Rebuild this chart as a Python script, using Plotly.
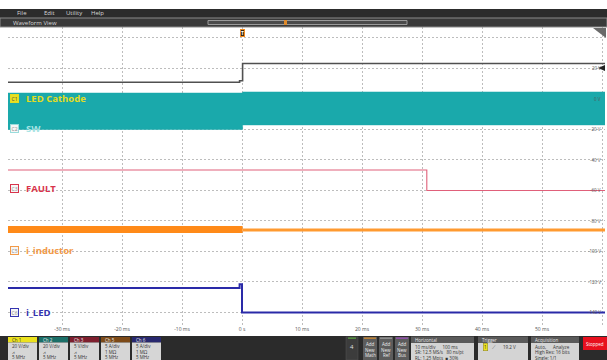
import plotly.graph_objects as go

W, H = 607, 360

t_gray = [-39, -0.4, -0.4, 0.1, 0.1, 60.5]
v_gray = [11.0, 11.0, 12.0, 12.0, 23.3, 23.3]

t_sw = [-39, 0.1, 0.1, 60.5]
v_sw_top = [3.9, 3.9, 4.6, 4.6]
v_sw_bot = [-20.0, -20.0, -17.0, -17.0]

t_fault = [-39, 30.8, 30.8, 60.5]
v_fault = [-46.6, -46.6, -60.0, -60.0]

t_ind_pre = [-39, 0.1]
v_ind_pre = [-85.6, -85.6]
t_ind_post = [0.1, 60.5]
v_ind_post = [-85.9, -85.9]

t_led = [-39, -0.4, -0.4, 0.0, 0.0, 60.5]
v_led = [-124.0, -124.0, -121.5, -121.5, -140.0, -140.0]

x_ticks = [-30, -20, -10, 0, 10, 20, 30, 40, 50, 60]
x_labels = ["-30 ms", "-20 ms", "-10 ms", "0 s", "10 ms", "20 ms", "30 ms", "40 ms", "50 ms", ""]
y_ticks = [40, 20, 0, -20, -40, -60, -80, -100, -120, -140]
y_labels = ["", "20 V", "0 V", "-20 V", "-40 V", "-60 V", "-80 V", "-100 V", "-120 V", "-140 V"]

channels = ["Ch 1", "Ch 2", "Ch 3", "Ch 5", "Ch 6"]
ch_scale = ["20 V/div", "20 V/div", "5 V/div", "5 A/div", "5 A/div"]
ch_line2 = ["⩘", "⩘", "⩘", "1 MΩ", "1 MΩ"]
ch_head = ["#ece21e", "#1b6f68", "#7e1f2e", "#7d4a18", "#28286e"]
ch_headtxt = ["#333333", "#e8e8e8", "#e8e8e8", "#e8e8e8", "#e8e8e8"]

trace_names = ["LED Cathode", "SW", "FAULT", "i_inductor", "i_LED"]
trace_badges = ["C1", "C2", "C3", "C5", "C6"]
trace_colors = ["#e3dc22", "#a8e4e4", "#d8344c", "#f29a48", "#3434b0"]
label_levels = [0.5, -19.5, -59.0, -99.5, -140.0]

FONT = "Open Sans"


def X(px):
    return px / W


def Y(py):
    return 1 - py / H


def note(x, y, text, size=4.5, color="#333333", xanchor="left", xref="paper", yref="paper", **kw):
    return dict(x=x, y=y, xref=xref, yref=yref, text=text, showarrow=False,
                xanchor=xanchor, yanchor="middle",
                font=dict(size=size, color=color, family=FONT), **kw)


fig = go.Figure()

fig.add_trace(go.Scatter(x=t_gray, y=v_gray, mode="lines",
                         line=dict(color="#505050", width=1.6), hoverinfo="skip"))
fig.add_trace(go.Scatter(x=t_sw, y=v_sw_bot, mode="lines",
                         line=dict(color="#1aa9ab", width=0.5), hoverinfo="skip"))
fig.add_trace(go.Scatter(x=t_sw, y=v_sw_top, mode="lines", fill="tonexty",
                         fillcolor="#1aa9ab",
                         line=dict(color="#1aa9ab", width=0.5), hoverinfo="skip"))
fig.add_trace(go.Scatter(x=t_fault, y=v_fault, mode="lines",
                         line=dict(color="#e0607a", width=1.1), hoverinfo="skip"))
fig.add_trace(go.Scatter(x=t_ind_pre, y=v_ind_pre, mode="lines",
                         line=dict(color="#ff8a18", width=7), hoverinfo="skip"))
fig.add_trace(go.Scatter(x=t_ind_post, y=v_ind_post, mode="lines",
                         line=dict(color="#ff9a30", width=3), hoverinfo="skip"))
fig.add_trace(go.Scatter(x=t_led, y=v_led, mode="lines",
                         line=dict(color="#2a2aa8", width=2), hoverinfo="skip"))

shapes = []
ann = []


def rect(x0, x1, y0, y1, fill, line=None):
    shapes.append(dict(type="rect", xref="paper", yref="paper", x0=X(x0), x1=X(x1), y0=Y(y1), y1=Y(y0),
                       fillcolor=fill, line=line or dict(width=0), layer="above"))


# top menu bar and waveform-view bar
rect(0, 607, 9, 18, "#2c2c2c")
rect(0, 607, 18, 27, "#3a3a3a", dict(color="#8a8a8a", width=1))
rect(208, 407, 20.5, 24.5, "#4a4a4a", dict(color="#9a9a9a", width=1))
rect(284, 287, 20, 25, "#e08a2a")
for txt, px in [("File", 15), ("Edit", 42), ("Utility", 64), ("Help", 89)]:
    ann.append(note(X(px), Y(13.5), txt, size=6, color="#d8d8d8"))
ann.append(note(X(11), Y(22.5), "Waveform View", size=6, color="#d8d8d8"))

# trigger marker, corner marker, level marker
ann.append(note(0, Y(33), "<b>T</b>", size=5, color="#ffffff", xanchor="center", xref="x",
                bgcolor="#3a2814", bordercolor="#f08a20", borderwidth=1, borderpad=0))
shapes.append(dict(type="path", xref="paper", yref="paper",
                   path=f"M {X(593)} {Y(28)} L {X(606)} {Y(28)} L {X(606)} {Y(38)} Z",
                   fillcolor="#6a6a6a", line_width=0, layer="above"))
shapes.append(dict(type="path", xref="paper", yref="paper",
                   path=f"M {X(598)} {Y(68)} L {X(605)} {Y(65)} L {X(605)} {Y(71)} Z",
                   fillcolor="#222222", line_width=0, layer="above"))

# right-hand scale labels
for v, lab in zip(y_ticks, y_labels):
    if lab:
        ann.append(note(X(603), v, lab, size=4.5, color="#555555", xanchor="right", yref="y"))

# channel labels on the left
for name, badge, col, lvl in zip(trace_names, trace_badges, trace_colors, label_levels):
    if badge == "C1":
        bfill, btxt = "#e8e020", "#444444"
    else:
        bfill, btxt = "#f6f6f6", "#888888"
    ann.append(note(X(14.5), lvl, badge, size=5, color=btxt, xanchor="center", yref="y",
                    bgcolor=bfill, bordercolor=col if badge != "C2" else "#9adcdc",
                    borderwidth=1, borderpad=0.5))
    ann.append(note(X(24), lvl, "<b>" + name + "</b>", size=9.5, color=col, yref="y"))

# bottom status panel
rect(0, 607, 336, 360, "#2b2b2b")
for i, ch in enumerate(channels):
    x0 = 8 + i * 31
    x1 = x0 + 29
    rect(x0, x1, 337, 342.5, ch_head[i])
    rect(x0, x1, 342.5, 360, "#d6d6d6")
    ann.append(note(X(x0 + 2), Y(339.8), ch, color=ch_headtxt[i]))
    for j, line in enumerate([ch_scale[i], ch_line2[i], "5 MHz"]):
        ann.append(note(X(x0 + 2), Y(346 + j * 5.5), line))

# right side of the panel
rect(346, 358, 337, 360, "#3c3c3c", dict(color="#555555", width=0.5))
rect(348, 356, 337.5, 338.8, "#5aa040")
ann.append(note(X(352), Y(347), "4", size=6, color="#e0e0e0", xanchor="center"))
for (x0, x1, col, last) in [(363, 377, "#d08a30", "Math"), (379, 393, "#9a9a9a", "Ref"),
                            (395, 409, "#9a50b8", "Bus")]:
    rect(x0, x1, 337, 360, "#5c5c5c")
    rect(x0 + 1, x1 - 1, 337.5, 338.8, col)
    for j, w in enumerate(["Add", "New", last]):
        ann.append(note(X((x0 + x1) / 2), Y(344 + j * 5.5), w, color="#eeeeee", xanchor="center"))

panels = [
    (411, 474, "Horizontal", ["10 ms/div      100 ms", "SR: 12.5 MS/s   80 ns/pt", "RL: 1.25 Mpts  ■ 30%"]),
    (478, 528, "Trigger", ["", "", ""]),
    (531, 579, "Acquisition", ["Auto,      Analyze", "High Res: 16 bits", "Single: 1/1"]),
]
for x0, x1, title, lines in panels:
    rect(x0, x1, 336.5, 343, "#5a5a5a")
    rect(x0, x1, 343, 360, "#d4d4d4")
    ann.append(note(X(x0 + 2), Y(339.8), title, color="#e8e8e8"))
    for j, line in enumerate(lines):
        if line:
            ann.append(note(X(x0 + 2), Y(346.5 + j * 5.5), line))

# trigger readout
ann.append(note(X(485), Y(347), "1", xanchor="center",
                bgcolor="#ece21e", bordercolor="#8a8020", borderwidth=0.5, borderpad=0.5))
ann.append(note(X(494), Y(347), "⟋", size=5, color="#555555", xanchor="center"))
ann.append(note(X(501), Y(347), "19.2 V"))

rect(583, 607, 337, 350, "#e8101e")
ann.append(note(X(595), Y(343.5), "Stopped", color="#ffffff", xanchor="center"))

fig.update_layout(
    width=W, height=H,
    margin=dict(l=0, r=0, t=0, b=0),
    paper_bgcolor="#ffffff",
    plot_bgcolor="#ffffff",
    showlegend=False,
    shapes=shapes,
    annotations=ann,
    xaxis=dict(domain=[X(8), X(605)], range=[-39, 60.5], tickvals=x_ticks, ticktext=x_labels,
               showgrid=True, gridcolor="#bdbdbd", griddash="2px,2px", gridwidth=1,
               zeroline=False, showline=False, ticks="",
               tickfont=dict(size=5, color="#555555", family=FONT)),
    yaxis=dict(domain=[Y(325), Y(27)], range=[-148.2, 47.2], tickvals=y_ticks,
               showticklabels=False, showgrid=True, gridcolor="#bdbdbd", griddash="2px,2px",
               gridwidth=1, zeroline=False, showline=False, ticks=""),
)

# drop the browser's default body margin so the 607x360 figure fills the window
fig.write_html("out.html", config={"displayModeBar": False},
               post_script="document.body.style.margin='0';")
